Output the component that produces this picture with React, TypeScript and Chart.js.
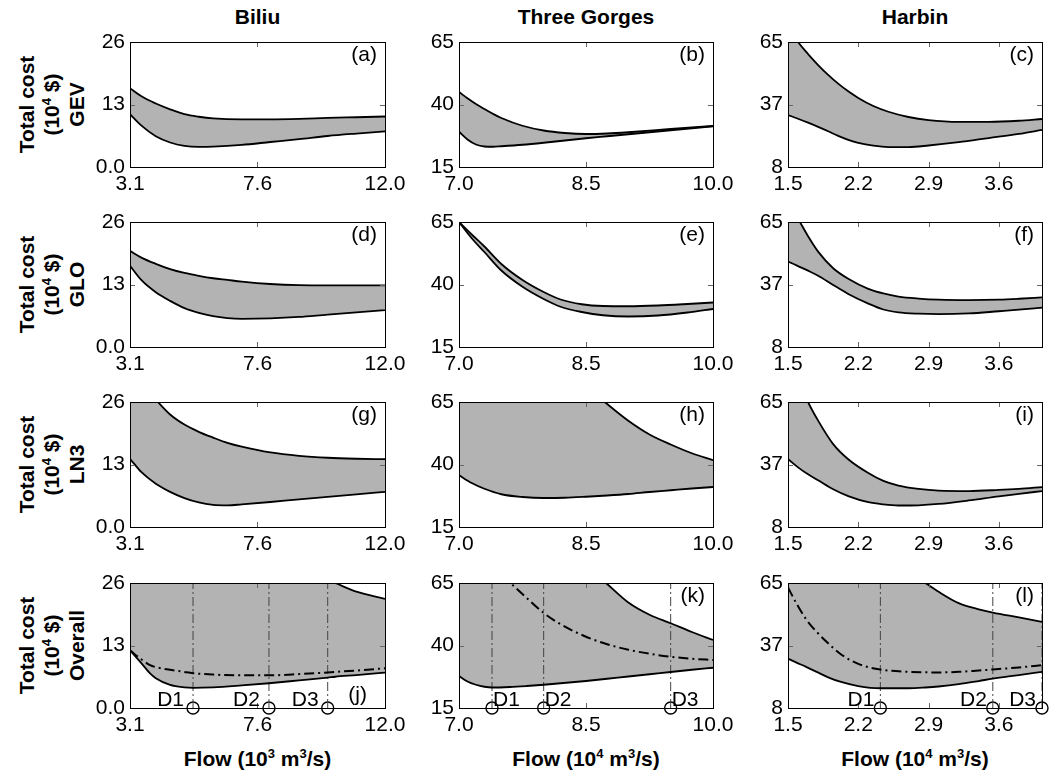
import React, { useEffect, useRef } from 'react';
import { Chart, registerables } from 'chart.js';

Chart.register(...registerables);

const FONT = "'Liberation Sans', Arial, Helvetica, sans-serif";
const FILL = '#b3b3b3';
const FS = 21;

// ---------- axes ----------
const biliuXRange = [3.1, 12.0];
const biliuXTicks = [3.1, 7.55, 12.0];
const biliuXLabels = ['3.1', '7.6', '12.0'];
const biliuYRange = [0, 26];
const biliuYTicks = [0, 13, 26];
const biliuYLabels = ['0.0', '13', '26'];

const gorgesXRange = [7.0, 10.0];
const gorgesXTicks = [7.0, 8.5, 10.0];
const gorgesXLabels = ['7.0', '8.5', '10.0'];
const gorgesYRange = [15, 65];
const gorgesYTicks = [15, 40, 65];
const gorgesYLabels = ['15', '40', '65'];

const harbinXRange = [1.5, 4.03];
const harbinXTicks = [1.5, 2.2, 2.9, 3.6];
const harbinXLabels = ['1.5', '2.2', '2.9', '3.6'];
const harbinYRange = [8, 65];
const harbinYTicks = [8, 36.5, 65];
const harbinYLabels = ['8', '37', '65'];

const columnTitles = ['Biliu', 'Three Gorges', 'Harbin'];
const rowNames = ['GEV', 'GLO', 'LN3', 'Overall'];
const flowExponents = ['3', '4', '4'];

// ---------- (a) Biliu GEV ----------
const flowA = [3.1, 3.5, 4.0, 4.5, 5.0, 5.5, 6.0, 7.0, 8.0, 9.0, 10.0, 11.0, 12.0];
const upperA = [16.4, 14.7, 13.2, 12.0, 11.0, 10.45, 10.1, 9.9, 9.9, 10.0, 10.2, 10.35, 10.5];
const lowerA = [11.0, 8.6, 6.4, 5.1, 4.4, 4.2, 4.25, 4.6, 5.2, 5.8, 6.45, 6.95, 7.4];

// ---------- (b) Three Gorges GEV ----------
const flowB = [7.0, 7.1, 7.2, 7.3, 7.4, 7.5, 7.75, 8.0, 8.25, 8.5, 8.75, 9.0, 9.5, 10.0];
const upperB = [45.0, 42.5, 40.2, 38.2, 36.3, 34.6, 31.5, 29.6, 28.6, 28.2, 28.4, 28.9, 30.2, 31.4];
const lowerB = [29.1, 26.0, 24.0, 23.2, 23.1, 23.3, 23.9, 24.7, 25.6, 26.5, 27.3, 28.1, 29.7, 31.3];

// ---------- (c) Harbin GEV ----------
const flowC = [1.5, 1.6, 1.7, 1.8, 1.9, 2.0, 2.1, 2.2, 2.35, 2.5, 2.7, 2.9, 3.2, 3.5, 3.8, 4.03];
const upperC = [72, 65, 59.5, 54.5, 50, 46, 42.5, 39.5, 35.8, 33.2, 30.8, 29.4, 28.6, 28.6, 29.1, 29.9];
const lowerC = [31.7, 30.0, 28.2, 26.3, 24.3, 22.2, 20.4, 19.0, 17.7, 17.1, 17.1, 17.8, 19.3, 21.2, 23.1, 24.9];

// ---------- (d) Biliu GLO ----------
const flowD = [3.1, 3.5, 4.0, 4.5, 5.0, 5.5, 6.0, 6.5, 7.0, 8.0, 9.0, 10.0, 11.0, 12.0];
const upperD = [20.0, 18.6, 17.3, 16.2, 15.4, 14.8, 14.3, 13.95, 13.6, 13.1, 12.85, 12.8, 12.8, 12.8];
const lowerD = [16.9, 13.9, 11.4, 9.6, 8.1, 7.1, 6.4, 6.0, 5.85, 5.95, 6.25, 6.75, 7.2, 7.65];

// ---------- (e) Three Gorges GLO ----------
const flowE = [7.0, 7.15, 7.3, 7.5, 7.75, 8.0, 8.2, 8.45, 8.7, 9.0, 9.35, 9.7, 10.0];
const upperE = [65, 60, 55.2, 48.2, 41.8, 37.0, 34.0, 32.1, 31.4, 31.3, 31.6, 32.2, 32.8];
const lowerE = [65, 58.5, 53.0, 45.6, 39.1, 34.2, 31.1, 29.0, 27.7, 27.2, 27.6, 28.8, 30.2];

// ---------- (f) Harbin GLO ----------
const flowF = [1.5, 1.6, 1.7, 1.8, 1.95, 2.1, 2.3, 2.45, 2.6, 2.8, 3.0, 3.3, 3.6, 3.8, 4.03];
const upperF = [74, 66.5, 58.5, 51.5, 43.9, 39.1, 34.5, 32.4, 31.0, 30.1, 29.6, 29.4, 29.6, 30.0, 30.6];
const lowerF = [47.0, 44.9, 42.8, 40.5, 36.3, 32.2, 27.8, 25.1, 23.8, 23.2, 23.0, 23.3, 24.3, 25.0, 26.0];

// ---------- (g) Biliu LN3 ----------
const flowG = [3.1, 3.5, 4.0, 4.5, 5.0, 5.5, 6.0, 6.5, 7.0, 8.0, 9.0, 10.0, 11.0, 12.0];
const upperG = [33, 30, 26.5, 23.4, 21.3, 19.8, 18.6, 17.5, 16.7, 15.5, 14.8, 14.4, 14.2, 14.1];
const lowerG = [14.2, 11.4, 9.0, 7.3, 6.0, 5.1, 4.6, 4.5, 4.7, 5.2, 5.75, 6.25, 6.8, 7.3];

// ---------- (h) Three Gorges LN3 ----------
const flowH = [7.0, 7.15, 7.3, 7.5, 7.75, 8.0, 8.25, 8.5, 8.75, 9.0, 9.25, 9.5, 9.75, 10.0];
const upperH = [125, 118, 111, 103, 94, 86, 78.5, 71.5, 64.2, 57.5, 52.0, 48.0, 44.5, 41.7];
const lowerH = [35.7, 32.6, 30.3, 28.1, 27.0, 26.6, 26.7, 27.1, 27.6, 28.2, 29.0, 29.7, 30.4, 31.0];

// ---------- (i) Harbin LN3 ----------
const flowI = [1.5, 1.6, 1.7, 1.8, 1.95, 2.1, 2.3, 2.45, 2.6, 2.8, 3.0, 3.3, 3.6, 3.8, 4.03];
const upperI = [88, 76, 65, 56.5, 45.8, 38.9, 32.6, 29.0, 26.9, 25.4, 24.6, 24.4, 24.9, 25.4, 26.2];
const lowerI = [39.0, 35.2, 32.0, 29.3, 25.2, 22.1, 19.3, 18.3, 17.8, 17.9, 18.5, 20.1, 22.0, 23.1, 24.4];

// ---------- (j) Biliu Overall ----------
const flowJ = [3.1, 3.5, 3.8, 4.0, 4.5, 5.0, 5.3, 6.0, 7.0, 7.95, 9.0, 10.0, 10.26, 11.0, 12.0];
const upperJ = [48, 46, 45, 44, 42, 40, 39, 36.5, 33.5, 31, 28.7, 26.6, 26.0, 24.2, 22.7];
const meanJ = [12.0, 10.1, 8.9, 8.5, 7.95, 7.5, 7.25, 6.95, 6.8, 6.8, 7.05, 7.4, 7.5, 7.8, 8.25];
const lowerJ = [12.0, 9.3, 7.2, 6.2, 4.8, 4.3, 4.2, 4.3, 4.7, 5.15, 5.75, 6.33, 6.5, 6.85, 7.36];
const designJ = [5.3, 7.95, 10.0];

// ---------- (k) Three Gorges Overall ----------
const flowK = [7.0, 7.1, 7.2, 7.3, 7.39, 7.6, 7.8, 8.0, 8.2, 8.5, 8.75, 9.0, 9.25, 9.5, 9.75, 10.0];
const upperK = [120, 116, 112, 108, 105, 98, 92, 86, 80, 72, 64.6, 57.2, 52.3, 48.9, 45.4, 42.2];
const meanK = [95, 89, 83, 77, 72.5, 65.3, 59.0, 53.0, 48.5, 43.5, 40.5, 38.3, 36.7, 35.5, 34.7, 34.2];
const lowerK = [27.8, 25.6, 24.3, 23.5, 23.2, 23.4, 23.8, 24.3, 24.9, 25.8, 26.7, 27.6, 28.5, 29.4, 30.3, 31.1];
const designK = [7.39, 8.0, 9.5];

// ---------- (l) Harbin Overall ----------
const flowL = [1.5, 1.58, 1.68, 1.78, 1.9, 2.02, 2.2, 2.42, 2.7, 2.87, 3.0, 3.2, 3.4, 3.54, 3.8, 4.03];
const upperL = [130, 125, 119, 113, 106, 100, 91, 81, 70.5, 65, 61.0, 55.8, 53.0, 51.5, 49.3, 47.3];
const meanL = [63, 56.0, 48.5, 43.0, 37.5, 32.75, 28.1, 25.55, 24.5, 24.3, 24.2, 24.5, 25.1, 25.55, 26.5, 27.5];
const lowerL = [30.5, 28.8, 26.75, 24.6, 22.0, 20.0, 18.0, 17.0, 17.0, 17.35, 17.8, 18.85, 20.3, 21.4, 23.0, 24.5];
const designL = [2.42, 3.54, 4.03];
const designNames = ['D1', 'D2', 'D3'];

// ---------- layout ----------
const colLeft = [130, 459, 788];
const colWidth = [255, 254, 254];
const rowTop = [42, 222, 402, 583];
const rowHeight = 125;
const PAD_L = 62, PAD_T = 20, PAD_R = 30, PAD_B = 45;

type Axis = { range: number[]; ticks: number[]; labels: string[] };
const xAxes: Axis[] = [
  { range: biliuXRange, ticks: biliuXTicks, labels: biliuXLabels },
  { range: gorgesXRange, ticks: gorgesXTicks, labels: gorgesXLabels },
  { range: harbinXRange, ticks: harbinXTicks, labels: harbinXLabels },
];
const yAxes: Axis[] = [
  { range: biliuYRange, ticks: biliuYTicks, labels: biliuYLabels },
  { range: gorgesYRange, ticks: gorgesYTicks, labels: gorgesYLabels },
  { range: harbinYRange, ticks: harbinYTicks, labels: harbinYLabels },
];

type PanelCfg = {
  letter: string; row: number; col: number;
  flow: number[]; upper: number[]; lower: number[]; mean?: number[];
  design?: number[]; designSide?: 'left' | 'right'; designGap?: number;
  letterPos: 'top' | 'bottom';
};

const panels: PanelCfg[] = [
  { letter: 'a', row: 0, col: 0, flow: flowA, upper: upperA, lower: lowerA, letterPos: 'top' },
  { letter: 'b', row: 0, col: 1, flow: flowB, upper: upperB, lower: lowerB, letterPos: 'top' },
  { letter: 'c', row: 0, col: 2, flow: flowC, upper: upperC, lower: lowerC, letterPos: 'top' },
  { letter: 'd', row: 1, col: 0, flow: flowD, upper: upperD, lower: lowerD, letterPos: 'top' },
  { letter: 'e', row: 1, col: 1, flow: flowE, upper: upperE, lower: lowerE, letterPos: 'top' },
  { letter: 'f', row: 1, col: 2, flow: flowF, upper: upperF, lower: lowerF, letterPos: 'top' },
  { letter: 'g', row: 2, col: 0, flow: flowG, upper: upperG, lower: lowerG, letterPos: 'top' },
  { letter: 'h', row: 2, col: 1, flow: flowH, upper: upperH, lower: lowerH, letterPos: 'top' },
  { letter: 'i', row: 2, col: 2, flow: flowI, upper: upperI, lower: lowerI, letterPos: 'top' },
  { letter: 'j', row: 3, col: 0, flow: flowJ, upper: upperJ, lower: lowerJ, mean: meanJ, design: designJ, designSide: 'left', designGap: 9, letterPos: 'bottom' },
  { letter: 'k', row: 3, col: 1, flow: flowK, upper: upperK, lower: lowerK, mean: meanK, design: designK, designSide: 'right', designGap: 1, letterPos: 'top' },
  { letter: 'l', row: 3, col: 2, flow: flowL, upper: upperL, lower: lowerL, mean: meanL, design: designL, designSide: 'left', designGap: 6, letterPos: 'top' },
];

function Panel({ p }: { p: PanelCfg }) {
  const ref = useRef<HTMLCanvasElement>(null);
  const w = colWidth[p.col] + PAD_L + PAD_R;
  const h = rowHeight + PAD_T + PAD_B;
  const xa = xAxes[p.col];
  const ya = yAxes[p.col];

  useEffect(() => {
    const pts = (ys: number[]) => p.flow.map((x, i) => ({ x, y: ys[i] }));
    const datasets: any[] = [
      { data: pts(p.upper), borderColor: '#000', borderWidth: 1.8, backgroundColor: FILL, fill: '+1', cubicInterpolationMode: 'monotone', pointRadius: 0, clip: 0 },
      { data: pts(p.lower), borderColor: '#000', borderWidth: 1.8, fill: false, cubicInterpolationMode: 'monotone', pointRadius: 0, clip: 0 },
    ];
    if (p.mean) {
      datasets.push({ data: pts(p.mean), borderColor: '#000', borderWidth: 2, borderDash: [10, 4, 2, 4], fill: false, cubicInterpolationMode: 'monotone', pointRadius: 0, clip: 0 });
    }
    if (p.design) {
      p.design.forEach((d) => {
        datasets.push({ data: [{ x: d, y: ya.range[0] }, { x: d, y: ya.range[1] }], borderColor: '#444', borderWidth: 1, borderDash: [9, 3, 2, 3], fill: false, tension: 0, pointRadius: 0, clip: 0 });
      });
      datasets.push({ data: p.design.map((d) => ({ x: d, y: ya.range[0] })), showLine: false, fill: false, pointRadius: 6, pointStyle: 'circle', pointBorderColor: '#000', pointBackgroundColor: 'rgba(0,0,0,0)', pointBorderWidth: 1.4, clip: false });
    }

    const deco = {
      id: 'deco',
      afterDatasetsDraw(chart: any) {
        const { ctx, chartArea: a } = chart;
        const xs = chart.scales.x, ys = chart.scales.y;
        const L = Math.round(a.left), R = Math.round(a.right), T = Math.round(a.top), B = Math.round(a.bottom);
        ctx.save();
        ctx.strokeStyle = '#666';
        ctx.lineWidth = 1;
        ctx.setLineDash([]);
        ctx.beginPath();
        xa.ticks.forEach((v) => {
          const px = Math.round(xs.getPixelForValue(v)) + 0.5;
          if (px < L + 2 || px > R - 2) return;
          ctx.moveTo(px, B); ctx.lineTo(px, B - 5);
          ctx.moveTo(px, T); ctx.lineTo(px, T + 5);
        });
        ya.ticks.forEach((v) => {
          const py = Math.round(ys.getPixelForValue(v)) + 0.5;
          if (py < T + 2 || py > B - 2) return;
          ctx.moveTo(L, py); ctx.lineTo(L + 5, py);
          ctx.moveTo(R, py); ctx.lineTo(R - 5, py);
        });
        ctx.stroke();
        ctx.strokeStyle = '#000';
        ctx.strokeRect(L + 0.5, T + 0.5, R - L, B - T);

        ctx.fillStyle = '#000';
        ctx.font = `${FS}px ${FONT}`;
        ctx.textAlign = 'right';
        ctx.textBaseline = 'middle';
        if (p.letterPos === 'top') ctx.fillText(`(${p.letter})`, R - 8, T + 13);
        else ctx.fillText(`(${p.letter})`, R - 18, B - 13);

        if (p.design) {
          ctx.textBaseline = 'alphabetic';
          p.design.forEach((d, i) => {
            const px = xs.getPixelForValue(d);
            if (p.designSide === 'left') {
              ctx.textAlign = 'right';
              ctx.fillText(designNames[i], px - (p.designGap || 0), B - 2);
            } else {
              ctx.textAlign = 'left';
              ctx.fillText(designNames[i], px + (p.designGap || 0), B - 2);
            }
          });
        }
        ctx.restore();
      },
    };

    const tickFont = { family: FONT, size: FS };
    const chart = new Chart(ref.current as HTMLCanvasElement, {
      type: 'line',
      data: { datasets },
      options: {
        animation: false,
        responsive: false,
        maintainAspectRatio: false,
        devicePixelRatio: 1,
        events: [],
        layout: { padding: { left: 0, top: PAD_T, right: PAD_R, bottom: 0 } },
        plugins: {
          legend: { display: false },
          tooltip: { enabled: false },
          filler: { propagate: false, drawTime: 'beforeDatasetsDraw' },
        } as any,
        scales: {
          x: {
            type: 'linear',
            min: xa.range[0],
            max: xa.range[1],
            grid: { display: false, drawTicks: false },
            border: { display: false },
            ticks: {
              autoSkip: false, maxRotation: 0, minRotation: 0, padding: 5,
              font: tickFont, color: '#000',
              callback: (_v: any, i: number) => xa.labels[i],
            },
            afterBuildTicks: (s: any) => { s.ticks = xa.ticks.map((v) => ({ value: v })); },
            afterFit: (s: any) => { s.height = PAD_B; },
          },
          y: {
            type: 'linear',
            min: ya.range[0],
            max: ya.range[1],
            grid: { display: false, drawTicks: false },
            border: { display: false },
            ticks: {
              autoSkip: false, padding: 5,
              font: tickFont, color: '#000',
              callback: (_v: any, i: number) => ya.labels[i],
            },
            afterBuildTicks: (s: any) => { s.ticks = ya.ticks.map((v) => ({ value: v })); },
            afterFit: (s: any) => { s.width = PAD_L; },
          },
        } as any,
      },
      plugins: [deco],
    } as any);
    return () => chart.destroy();
  }, []);

  return (
    <canvas
      ref={ref}
      width={w}
      height={h}
      style={{ position: 'absolute', left: colLeft[p.col] - PAD_L, top: rowTop[p.row] - PAD_T, width: w, height: h, display: 'block' }}
    />
  );
}

const supStyle: React.CSSProperties = { fontSize: 13, verticalAlign: 'super', lineHeight: 0 };

export default function App() {
  return (
    <div style={{ position: 'absolute', left: 0, top: 0, width: 1050, height: 773, background: '#fff', overflow: 'hidden', fontFamily: FONT, color: '#000' }}>
      {columnTitles.map((t, c) => (
        <div key={t} style={{ position: 'absolute', left: colLeft[c] + colWidth[c] / 2 - 150, top: 5, width: 300, textAlign: 'center', fontSize: FS, fontWeight: 'bold', lineHeight: '24px' }}>{t}</div>
      ))}
      {rowNames.map((n, r) => (
        <div key={n} style={{ position: 'absolute', left: 50.5 - 100, top: rowTop[r] + rowHeight / 2 - 37.5, width: 200, height: 75, transform: 'rotate(-90deg)', textAlign: 'center', fontSize: FS, fontWeight: 'bold', lineHeight: '25px' }}>
          <div>Total cost</div>
          <div>(10<span style={supStyle}>4</span> $)</div>
          <div>{n}</div>
        </div>
      ))}
      {flowExponents.map((e, c) => (
        <div key={c} style={{ position: 'absolute', left: colLeft[c] + colWidth[c] / 2 - 150, top: 747, width: 300, textAlign: 'center', fontSize: FS, fontWeight: 'bold', lineHeight: '24px' }}>
          Flow (10<span style={supStyle}>{e}</span> m<span style={supStyle}>3</span>/s)
        </div>
      ))}
      {panels.map((p) => <Panel key={p.letter} p={p} />)}
    </div>
  );
}
